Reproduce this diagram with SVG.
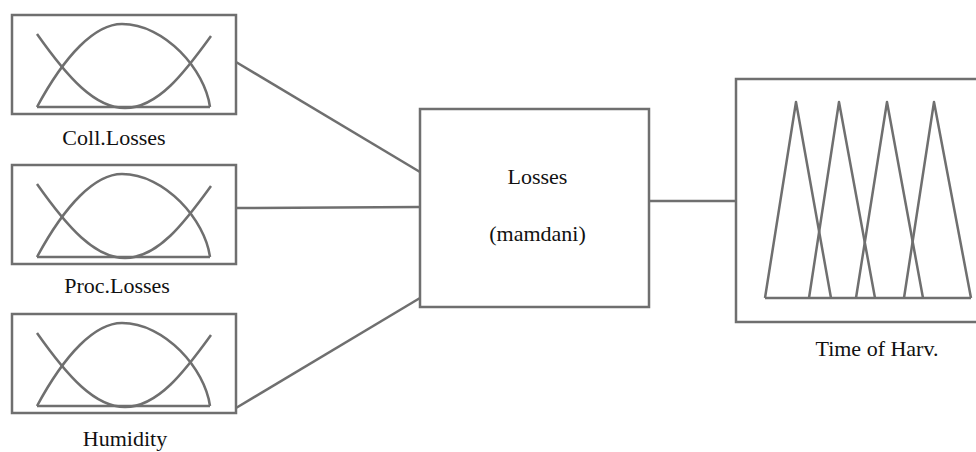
<svg xmlns="http://www.w3.org/2000/svg" width="976" height="452" viewBox="0 0 976 452">
<style>
.box{fill:#fff;stroke:#6f6f6f;stroke-width:2.5}
.mf{fill:none;stroke:#6f6f6f;stroke-width:2.5;stroke-linejoin:round}
.con{fill:none;stroke:#6f6f6f;stroke-width:2.5}
text{font-family:"Liberation Serif","Times New Roman",serif;font-size:22px;fill:#111;text-anchor:middle}
</style>
<defs>
<g id="mfin">
<path class="mf" d="M37,34 C68,78 95,108 125,108 C158,108 185,72 211,36"/>
<path class="mf" d="M37,107 C65,55 95,24 122,24 C165,24 205,70 210,107"/>
<path class="mf" d="M37,107 H210"/>
</g>
</defs>
<rect width="976" height="452" fill="#fff"/>
<g id="connectors">
<line class="con" x1="236" y1="62" x2="420" y2="172"/>
<line class="con" x1="236" y1="208" x2="420" y2="207"/>
<line class="con" x1="236" y1="408" x2="420" y2="298"/>
<line class="con" x1="649" y1="201" x2="736" y2="201"/>
</g>
<g id="coll">
<rect class="box" x="12" y="15" width="224" height="99"/>
<use href="#mfin"/>
<text x="114" y="145">Coll.Losses</text>
</g>
<g id="proc">
<rect class="box" x="12" y="165" width="224" height="99"/>
<use href="#mfin" transform="translate(0,150)"/>
<text x="117" y="293">Proc.Losses</text>
</g>
<g id="humidity">
<rect class="box" x="12" y="314" width="224" height="99"/>
<use href="#mfin" transform="translate(0,299)"/>
<text x="125" y="446">Humidity</text>
</g>
<g id="losses">
<rect class="box" x="420" y="109" width="229" height="198"/>
<text x="537.5" y="184">Losses</text>
<text x="537.5" y="241">(mamdani)</text>
</g>
<g id="time">
<rect class="box" x="736" y="79" width="250" height="243"/>
<polyline class="mf" points="765,298 796,102 831,298"/>
<polyline class="mf" points="809,298 839,102 875,298"/>
<polyline class="mf" points="856,298 887,102 923,298"/>
<polyline class="mf" points="904,298 934,102 971,298"/>
<line class="mf" x1="765" y1="298" x2="971" y2="298"/>
<text x="877" y="356">Time of Harv.</text>
</g>
</svg>
